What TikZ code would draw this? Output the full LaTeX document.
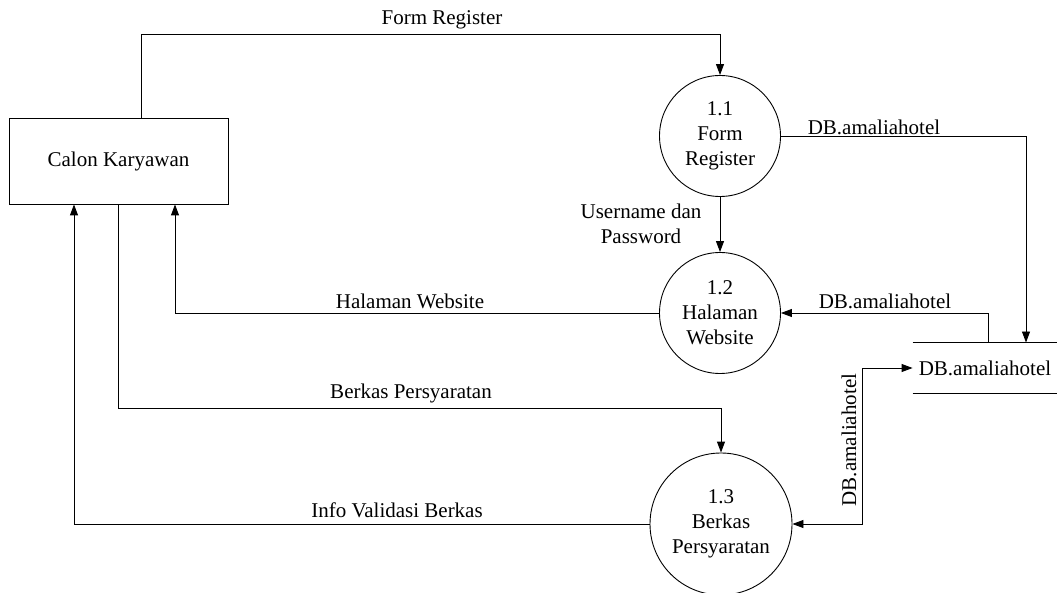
\documentclass[tikz,border=0pt]{standalone}
\usepackage{fontspec}
\setmainfont{Liberation Serif}
\usetikzlibrary{arrows.meta}
\begin{document}
\begin{tikzpicture}[x=1pt, y=-1pt, line width=0.9pt,
  font=\fontsize{21}{25}\selectfont,
  flow/.style={-{Triangle[length=11pt, width=8pt]}},
  flowboth/.style={{Triangle[length=11pt, width=8pt]}-{Triangle[length=11pt, width=8pt]}},
  proc/.style={circle, draw, align=center, inner sep=0pt},
  lbl/.style={inner sep=0pt, align=center}]
\useasboundingbox (0,0) rectangle (1057,593);
% entity, processes and store
\node[draw, minimum width=219pt, minimum height=86pt] (calon) at (118.5,161){Calon Karyawan};
\node[proc, minimum size=121pt] (p11) at (720,136){1.1\\Form\\Register};
\node[proc, minimum size=121pt] (p12) at (720,313){1.2\\Halaman\\Website};
\node[proc, minimum size=142pt] (p13) at (721,524){1.3\\Berkas\\Persyaratan};
\node[minimum width=144pt, minimum height=50pt, inner sep=0pt] (db) at (985,368){DB.amaliahotel};
\draw (db.north west) -- (db.north east);
\draw (db.south west) -- (db.south east);
% flows
\draw[flow] ([xshift=22.5pt]calon.north) -- ++(0,-83) -| (p11.north);
\draw[flow] (p11.south) -- (p12.north);
\draw[flow] (p11.east) -| ([xshift=41pt]db.north);
\draw[flow] ([xshift=3pt]db.north) |- (p12.east);
\draw[flow] (p12.west) -| ([xshift=56.5pt]calon.south);
\draw[flow] ([xshift=-0.5pt]calon.south) -- ++(0,204) -| (p13.north);
\draw[flow] (p13.west) -| ([xshift=-44.5pt]calon.south);
\draw[flowboth] (db.west) -- ++(-50,0) |- (p13.east);
% labels
\node[lbl] (l1) at (442,20){Form Register};
\node[lbl] (l2) at (874,127){DB.amaliahotel};
\node[lbl] (l3) at (641,224){Username dan\\Password};
\node[lbl] (l4) at (885,301){DB.amaliahotel};
\node[lbl] (l5) at (410,301){Halaman Website};
\node[lbl] (l6) at (411,393){Berkas Persyaratan};
\node[lbl] (l7) at (397,510){Info Validasi Berkas};
\node[lbl, rotate=90] (l8) at (849,440){DB.amaliahotel};
\end{tikzpicture}
\end{document}
